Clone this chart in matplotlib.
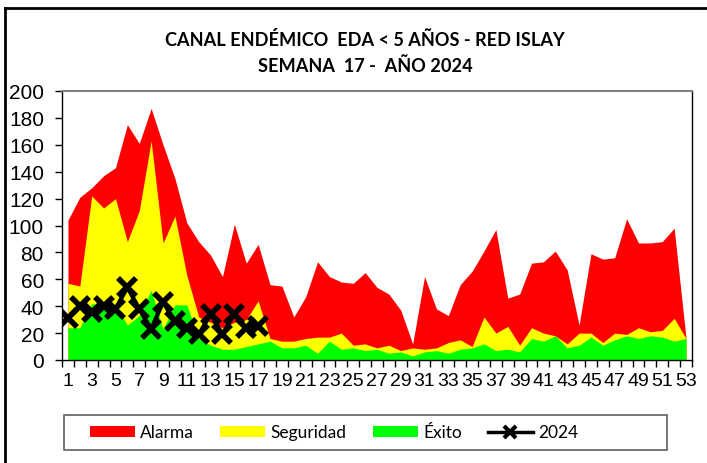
import numpy as np
import matplotlib
matplotlib.use("Agg")
import matplotlib.pyplot as plt
from matplotlib.lines import Line2D
from matplotlib.patches import Patch, Rectangle

# ==========================================================
# Data
# ==========================================================

semanas = list(range(1, 54))

alarma = [104, 121, 128, 137, 143, 175, 161, 187, 160, 135, 102, 88, 78, 62,
          101, 72, 86, 56, 55, 32, 47, 73, 62, 58, 57, 65, 54, 49, 37, 12,
          62, 38, 33, 56, 66, 81, 97, 46, 49, 72, 73, 81, 67, 26, 79, 75,
          76, 105, 87, 87, 88, 98, 16]

seguridad = [57, 55, 122, 113, 120, 88, 111, 163, 87, 107, 63, 32, 28, 24,
             28, 30, 44, 16, 14, 14, 16, 17, 17, 20, 11, 12, 9, 11, 7, 9,
             8, 9, 13, 15, 10, 32, 20, 25, 11, 24, 20, 18, 12, 20, 20, 13,
             20, 19, 24, 21, 22, 31, 16]

exito = [24, 24, 42, 40, 41, 26, 33, 52, 23, 41, 41, 16, 11, 8, 8, 10, 12,
         14, 9, 9, 11, 5, 14, 8, 9, 7, 8, 5, 6, 3, 6, 7, 5, 8, 9, 12, 7, 8,
         6, 16, 14, 18, 9, 11, 17, 11, 15, 18, 16, 18, 17, 14, 16]

semanas_2024 = list(range(1, 18))
casos_2024 = [31, 40, 36, 40, 38, 54, 38, 23, 43, 29, 24, 19, 34, 19, 34, 24, 25]

# ==========================================================
# Figure
# ==========================================================

fig = plt.figure(figsize=(7.07, 4.64), dpi=100)
ax = fig.add_axes([62 / 707, 1 - 361 / 464, 630 / 707, 269 / 464])

ax.fill_between(semanas, 0, alarma, color="#FF0000", linewidth=0)
ax.fill_between(semanas, 0, seguridad, color="#FFFF00", linewidth=0)
ax.fill_between(semanas, 0, exito, color="#00FF00", linewidth=0)

ax.plot(semanas_2024, casos_2024, color="black", linewidth=3,
        marker="x", markersize=13, markeredgewidth=4)

ax.set_xlim(0.5, 53.5)
ax.set_ylim(0, 200)

# y axis
ax.set_yticks(range(0, 201, 20))
ax.tick_params(axis="y", direction="out", length=5, width=1, pad=8,
               labelsize=15)
for lbl in ax.get_yticklabels():
    lbl.set_family("Liberation Sans")

# x axis: labels at odd weeks, tick marks between categories
ax.set_xticks(range(1, 54, 2))
ax.set_xticklabels([str(s) for s in range(1, 54, 2)],
                   family="Liberation Sans", fontsize=14)
ax.set_xticks(np.arange(0.5, 54, 1), minor=True)
ax.tick_params(axis="x", which="major", length=0, pad=9)
ax.tick_params(axis="x", which="minor", direction="out", length=5, width=1)

ax.spines["top"].set_color("#808080")
ax.spines["top"].set_linewidth(1.5)
for side in ["left", "right", "bottom"]:
    ax.spines[side].set_color("black")
    ax.spines[side].set_linewidth(1)

# ==========================================================
# Title
# ==========================================================

fig.text(365 / 707, 1 - 40 / 464, "CANAL ENDÉMICO  EDA < 5 AÑOS - RED ISLAY",
         ha="center", va="center", fontsize=13.1, fontweight="bold",
         family="Lato")
fig.text(365 / 707, 1 - 66 / 464, "SEMANA  17 -  AÑO 2024",
         ha="center", va="center", fontsize=13.1, fontweight="bold",
         family="Lato")

# ==========================================================
# Legend
# ==========================================================

handles = [
    Patch(facecolor="#FF0000", edgecolor="none"),
    Patch(facecolor="#FFFF00", edgecolor="none"),
    Patch(facecolor="#00FF00", edgecolor="none"),
    Line2D([0], [0], color="black", linewidth=2.5, marker="x",
           markersize=8, markeredgewidth=3),
]
labels = ["Alarma", "Seguridad", "Éxito", "2024"]

leg = fig.legend(
    handles, labels,
    loc="center left",
    bbox_to_anchor=(90 / 707, 1 - 433.5 / 464),
    ncol=4,
    frameon=False,
    prop={"family": "Lato", "size": 12.5},
    handlelength=2.6,
    handleheight=0.65,
    handletextpad=0.3,
    columnspacing=1.5,
    borderpad=0,
    borderaxespad=0,
    numpoints=1,
)

# legend box (wider than its entries, as in the original)
fig.add_artist(Rectangle((63.5 / 707, 1 - 451 / 464), 603 / 707, 35 / 464,
                         transform=fig.transFigure, facecolor="none",
                         edgecolor="#606060", linewidth=1.2))

# outer chart border (left and top visible)
fig.add_artist(Line2D([4.5 / 707, 4.5 / 707], [0, 1 - 9 / 464],
                      color="black", linewidth=2))
fig.add_artist(Line2D([4.5 / 707, 1], [1 - 9 / 464, 1 - 9 / 464],
                      color="black", linewidth=2))

fig.savefig("out.png", dpi=100)
